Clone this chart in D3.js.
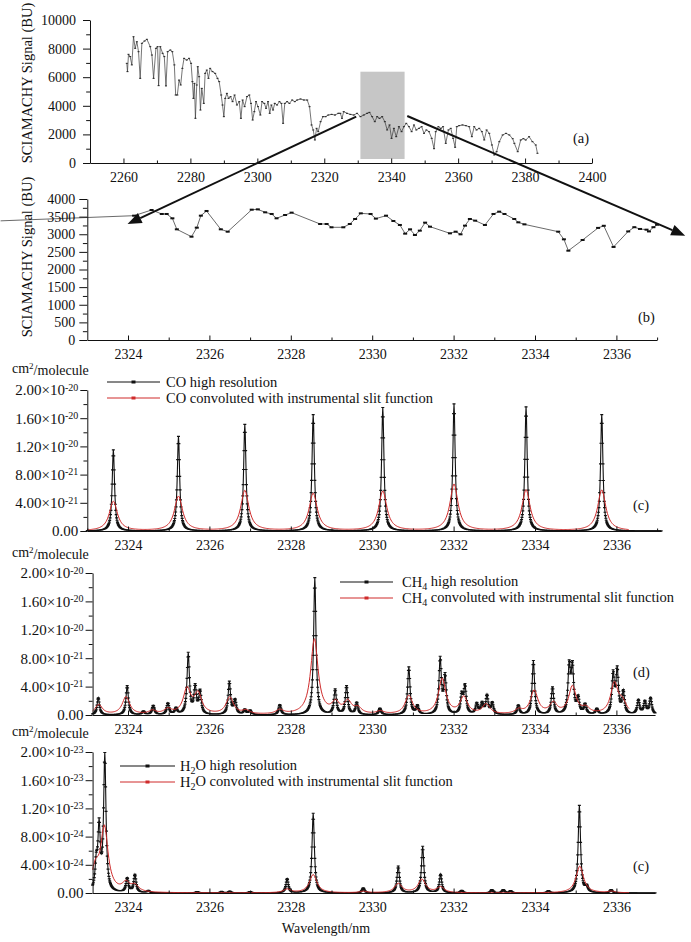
<!DOCTYPE html>
<html>
<head>
<meta charset="utf-8">
<script src="https://cdn.jsdelivr.net/npm/d3@7"></script>
<style>
  body { margin: 0; background: #fff; }
  svg { display: block; font-family: "Liberation Serif", "Times New Roman", serif; }
</style>
</head>
<body>
<svg id="chart" width="691" height="942"></svg>
<script>
// panel (a): SCIAMACHY signal over the whole window (nm, BU)
const aWave = [2261.0,2261.2,2261.5,2262.0,2262.5,2263.0,2263.5,2264.0,2264.5,2265.0,2265.5,2266.3,2267.0,2268.0,2268.5,2269.0,2269.7,2270.2,2270.5,2271.0,
  2271.7,2272.2,2272.7,2273.2,2274.0,2274.6,2275.2,2275.6,2276.1,2276.6,2277.1,2277.6,2278.1,2278.9,2279.6,2280.2,2280.6,2280.9,2281.2,2281.5,
  2281.9,2282.2,2282.6,2283.0,2283.4,2284.0,2284.4,2284.9,2285.4,2285.9,2286.6,2287.4,2288.1,2288.6,2289.2,2289.6,2290.0,2290.4,2290.9,2291.4,
  2292.0,2292.6,2293.2,2293.9,2294.6,2295.1,2295.6,2296.2,2296.9,2297.6,2298.1,2298.6,2299.1,2299.6,2300.2,2300.9,2301.4,2302.1,2302.6,2303.2,
  2303.7,2304.2,2304.7,2305.2,2305.9,2306.6,2307.2,2307.7,2308.2,2308.9,2309.6,2310.4,2311.2,2311.9,2312.9,2313.9,2314.9,2315.6,2316.2,2316.7,
  2317.2,2317.7,2318.2,2318.9,2319.6,2320.4,2321.2,2322.2,2323.2,2324.2,2324.8,2325.3,2325.8,2326.8,2327.8,2328.8,2329.8,2330.8,2331.8,2332.8,
  2333.5,2334.3,2335.1,2335.8,2336.5,2337.3,2338.1,2338.8,2339.5,2340.1,2340.8,2341.5,2342.3,2343.1,2343.8,2344.5,2345.3,2346.1,2346.8,2347.5,
  2348.3,2349.1,2349.8,2350.5,2351.3,2352.1,2352.8,2353.3,2354.1,2354.8,2355.5,2356.3,2357.1,2357.8,2358.5,2359.1,2359.6,2360.3,2361.3,2362.3,
  2363.3,2364.1,2364.8,2365.5,2366.3,2367.1,2367.8,2368.5,2369.3,2370.1,2370.8,2371.5,2372.3,2373.3,2374.3,2375.3,2376.3,2376.8,2377.8,2378.7,
  2379.5,2380.2,2381.2,2382.2,2383.2,2383.7];
const aSignal = [6970,6390,7600,7440,6860,8830,8020,8480,7785,5920,8370,8530,8650,8135,7550,5920,8020,8135,5410,8135,
  7670,7440,5390,7785,7900,7785,6860,4755,4755,5800,5455,6620,7320,7200,7320,6970,5690,4520,5570,3125,
  5455,6735,6035,3705,5220,4170,6270,6500,5920,6620,6390,6270,5920,5690,4755,4055,3240,4520,4870,4520,
  4640,4290,4755,4055,4290,3125,4405,3940,4640,4755,4170,3005,3590,4290,3940,3355,4290,4170,3825,4290,
  3475,4055,3705,4170,4055,4290,4170,2775,4170,4290,4170,4405,4290,4405,4475,4405,4405,3940,2660,2310,
  1610,2425,2190,2890,3240,3240,3355,3400,3355,3475,3475,3125,3590,3475,3400,3355,3475,3240,3355,3475,
  3540,3240,2890,3240,3125,3240,2890,2310,2660,1725,2425,1840,2540,2190,2540,2775,2540,2190,2660,2310,
  2425,2540,2075,2310,2190,1725,1000,2190,2540,2425,2540,1375,2310,2425,1725,1100,2540,2610,2660,2610,
  2540,1840,2540,2310,2425,2190,1610,2310,2075,1260,560,790,1490,1960,2075,1960,1700,1375,790,1610,
  1700,1610,1840,1490,1260,680];

// panel (b): zoom on 2323-2337 nm
const bWave = [2320.87,2324.15,2324.58,2324.83,2324.95,2325.09,2325.20,2325.56,2325.69,2325.79,2325.93,2326.28,2326.45,2327.04,2327.19,2327.37,2327.53,2327.65,2327.86,2328.02,
  2328.72,2328.88,2329.00,2329.29,2329.45,2329.58,2329.72,2329.96,2330.09,2330.34,2330.52,2330.68,2330.81,2330.93,2331.05,2331.17,2331.30,2331.42,2331.91,2332.05,
  2332.17,2332.28,2332.40,2332.53,2332.77,2332.98,2333.12,2333.25,2333.49,2333.59,2333.74,2334.57,2334.71,2334.82,2335.17,2335.55,2335.69,2335.93,2336.29,2336.44,
  2336.58,2336.74,2336.80,2336.91,2337.00];
const bSignal = [3380,3527,3688,3575,3575,3452,3140,2931,3187,3527,3660,3140,3073,3697,3706,3622,3575,3452,3546,3613,
  3291,3291,3197,3197,3291,3433,3593,3575,3443,3527,3376,3263,3017,3140,2979,3102,3329,3215,3026,3073,
  2998,3244,3433,3386,3263,3575,3641,3575,3433,3338,3281,3073,2856,2534,2837,3180,3240,2640,3080,3200,
  3150,3130,3080,3200,3270];

// panels (c)-(e): line positions (nm) and peak cross sections
// CO and CH4 in 1e-21 cm2/molecule, H2O in 1e-24 cm2/molecule
const coLinePos = [2323.64,2325.24,2326.87,2328.55,2330.26,2332.01,2333.78,2335.64];
const coPeakHigh = [11.5,13.4,15.1,16.5,17.5,18.0,17.6,16.5];
const coPeakConv = [4.2,4.9,5.7,5.3,5.6,6.6,5.8,5.8];

const ch4LinePos = [2323.27,2323.98,2324.38,2324.62,2324.98,2325.18,2325.48,2325.65,2325.77,2326.49,2326.63,2326.87,2327.00,2327.73,2328.59,
  2329.09,2329.37,2329.62,2330.19,2330.90,2331.11,2331.67,2331.79,2332.20,2332.28,2332.57,2332.70,2332.82,2332.95,2333.59,
  2333.96,2334.43,2334.84,2334.92,2335.06,2335.23,2335.52,2335.92,2336.02,2336.17,2336.54,2336.70,2336.84];
const ch4PeakHigh = [2.4,4.1,0.5,1.3,1.6,0.9,8.6,3.8,3.2,4.6,2.0,0.7,0.6,1.4,19.3,
  3.5,4.0,1.7,0.9,6.7,1.2,7.8,5.3,2.6,3.9,1.5,1.5,2.6,1.6,1.3,
  7.6,3.8,6.6,6.4,2.2,1.4,0.8,5.6,6.1,3.1,2.0,1.8,2.3];
const ch4ConvPos = [2323.28,2323.95,2324.60,2324.98,2325.45,2325.72,2326.50,2326.90,2327.73,2328.58,2329.10,2329.40,2329.65,2330.20,2330.90,
  2331.72,2332.25,2332.80,2333.60,2333.98,2334.45,2334.92,2335.25,2335.95,2336.15];
const ch4PeakConv = [1.4,2.5,0.5,0.7,3.5,2.8,2.4,0.5,0.6,10.6,1.5,1.7,0.8,0.4,2.6,
  5.0,2.4,1.4,0.6,3.3,1.5,3.9,0.8,4.3,1.5];

const h2oLinePos = [2323.22,2323.29,2323.43,2323.98,2324.17,2324.50,2325.70,2326.30,2326.50,2327.00,2327.91,2328.55,2329.78,2330.64,2331.24,
  2331.68,2332.20,2332.94,2333.22,2333.40,2334.33,2335.09,2335.27,2335.87];
const h2oPeakHigh = [3.5,8.8,19.3,2.0,2.5,0.3,0.2,0.2,0.25,0.2,2.0,11.3,0.7,3.8,6.6,
  2.6,0.35,0.45,0.45,0.3,0.3,12.4,0.8,0.45];
const h2oConvPos = [2323.20,2323.42,2323.95,2324.17,2327.91,2328.55,2329.78,2330.64,2331.22,2331.68,2335.10,2335.88];
const h2oPeakConv = [3.0,9.0,1.2,0.9,0.5,2.6,0.2,1.3,1.9,0.8,3.8,0.2];

// y tick labels of the cross section panels
const specTicks = [0, 4, 8, 12, 16, 20];
const specMant = ['0.00', '4.00', '8.00', '1.20', '1.60', '2.00'];
const cdExp = ['', '-21', '-21', '-20', '-20', '-20'];
const eExp = ['', '-24', '-24', '-23', '-23', '-23'];

const RED = '#cf2b2b';
const svg = d3.select('#chart');

// sum of line profiles sampled on a grid (line centres are added to the grid)
function spectrum(pos, amp, gamma, lo, hi, step) {
  const grid = d3.range(lo, hi + step / 2, step).concat(pos.filter(p => p > lo && p < hi));
  grid.sort(d3.ascending);
  return grid.map(x => {
    let s = 0;
    for (let i = 0; i < pos.length; i++) {
      const d = (x - pos[i]) / gamma;
      s += amp[i] / (1 + d * d);
    }
    return [x, s];
  });
}

function styleAxis(g, size) {
  g.attr('font-family', null).attr('font-size', size);
  g.selectAll('text').attr('fill', '#111');
  g.selectAll('line,path').attr('stroke', '#111');
}

function xAxis(g, x, yPix, major, minor, fmt) {
  g.append('g').attr('transform', `translate(0,${yPix})`)
    .call(d3.axisBottom(x).tickValues(major).tickSizeInner(-4.5).tickSizeOuter(0).tickPadding(9).tickFormat(fmt))
    .call(a => styleAxis(a, 14));
  g.append('g').attr('transform', `translate(0,${yPix})`)
    .call(d3.axisBottom(x).tickValues(minor).tickSizeInner(-2.5).tickSizeOuter(0).tickFormat(''))
    .call(a => { styleAxis(a, 14); a.select('.domain').remove(); });
}

function yAxis(g, y, xPix, major, minor, inner, pad, fmt, size) {
  const ax = g.append('g').attr('transform', `translate(${xPix},0)`)
    .call(d3.axisLeft(y).tickValues(major).tickSizeInner(inner).tickSizeOuter(0).tickPadding(pad).tickFormat(fmt))
    .call(a => styleAxis(a, size || 14));
  g.append('g').attr('transform', `translate(${xPix},0)`)
    .call(d3.axisLeft(y).tickValues(minor).tickSizeInner(inner * 0.55).tickSizeOuter(0).tickFormat(''))
    .call(a => { styleAxis(a, 14); a.select('.domain').remove(); });
  return ax;
}

function sciLabels(ax, exps) {
  ax.selectAll('.tick text').each(function (d, i) {
    const t = d3.select(this).text(null);
    t.append('tspan').text(specMant[i]);
    if (exps[i]) {
      t.append('tspan').text('\u00d710');
      t.append('tspan').attr('dy', '-0.45em').attr('font-size', 10).text(exps[i]);
    }
  });
}

function text(x, y, size, parts, anchor) {
  const t = svg.append('text').attr('x', x).attr('y', y).attr('font-size', size)
    .attr('fill', '#111').attr('text-anchor', anchor || 'start');
  parts.forEach(p => {
    if (typeof p === 'string') t.append('tspan').text(p);
    else t.append('tspan').attr('dy', p.dy).attr('font-size', p.size).text(p.t);
  });
  return t;
}

function ladder(g, pts, x, y, color, w) {
  const line = d3.line().x(d => x(d[0])).y(d => y(d[1]));
  g.append('path').attr('d', line(pts)).attr('fill', 'none').attr('stroke', color).attr('stroke-width', w);
  const p = d3.path();
  pts.forEach(d => { p.moveTo(x(d[0]) - 1.5, y(d[1])); p.lineTo(x(d[0]) + 1.5, y(d[1])); });
  g.append('path').attr('d', p.toString()).attr('stroke', color).attr('stroke-width', 1.2);
}

function legendRow(x0, x1, yPix, color, tx, parts) {
  svg.append('line').attr('x1', x0).attr('x2', x1).attr('y1', yPix).attr('y2', yPix)
    .attr('stroke', color).attr('stroke-width', 1);
  svg.append('rect').attr('x', (x0 + x1) / 2 - 2).attr('y', yPix - 1.5).attr('width', 4).attr('height', 3).attr('fill', color);
  text(tx, yPix + 5, 14.5, parts);
}

// ---------------- panel (a)
const ax = d3.scaleLinear().domain([2250, 2400]).range([90, 592]);
const ay = d3.scaleLinear().domain([0, 10000]).range([163, 20]);
const ga = svg.append('g');
const box = [2330.8, 2344.0, 280, 6385];
ga.append('rect').attr('x', ax(box[0])).attr('y', ay(box[3]))
  .attr('width', ax(box[1]) - ax(box[0])).attr('height', ay(box[2]) - ay(box[3])).attr('fill', '#c6c6c6');
const aPts = aWave.map((w, i) => [w, aSignal[i]]);
ga.append('path').attr('d', d3.line().x(d => ax(d[0])).y(d => ay(d[1]))(aPts))
  .attr('fill', 'none').attr('stroke', '#3a3a3a').attr('stroke-width', 0.7);
ga.selectAll('rect.m').data(aPts).join('rect').attr('class', 'm')
  .attr('x', d => ax(d[0]) - 1).attr('y', d => ay(d[1]) - 0.5).attr('width', 2).attr('height', 1).attr('fill', '#222');
xAxis(ga, ax, 163, d3.range(2260, 2401, 20), d3.range(2250, 2401, 20), d3.format('d'));
yAxis(ga, ay, 90, d3.range(0, 10001, 2000), d3.range(1000, 10000, 2000), 7, 7, d3.format('d'));
text(27, 83, 14.5, ['SCIAMACHY Signal (BU)'], 'middle').attr('transform', 'rotate(-90,27,83)').attr('dy', '0.35em');
text(573, 143, 14.5, ['(a)']);

// ---------------- panel (b)
const bx = d3.scaleLinear().domain([2323, 2337]).range([87.3, 657.1]);
const by = d3.scaleLinear().domain([0, 4000]).range([340, 199]);
const gb = svg.append('g');
const bPts = bWave.map((w, i) => [w, bSignal[i]]);
gb.append('path').attr('d', d3.line().x(d => bx(d[0])).y(d => by(d[1]))(bPts))
  .attr('fill', 'none').attr('stroke', '#444').attr('stroke-width', 0.8);
gb.selectAll('rect').data(bPts.filter(d => d[0] >= 2323)).join('rect')
  .attr('x', d => bx(d[0]) - 2).attr('y', d => by(d[1]) - 1).attr('width', 4).attr('height', 2).attr('fill', '#111');
xAxis(gb, bx, 340, d3.range(2324, 2337, 2), d3.range(2325, 2338, 2), d3.format('d'));
yAxis(gb, by, 87.3, d3.range(0, 4001, 500), d3.range(250, 4000, 500), 8, 4, d3.format('d'));
text(27, 257, 14.5, ['SCIAMACHY Signal (BU)'], 'middle').attr('transform', 'rotate(-90,27,257)').attr('dy', '0.35em');
text(638, 322, 14.5, ['(b)']);

// ---------------- panels (c)-(e)
const nm = d3.scaleLinear().domain([2324, 2336]).range([128, 616.4]);
const panels = [
  { lo: 2323.0, hi: 2337.1, top: 390, bot: 531, pos: coLinePos, amp: coPeakHigh, cpos: coLinePos, camp: coPeakConv, cg: 0.12,
    exp: cdExp, unitY: 373, tag: '(c)', tagY: 510,
    leg: [107, 160, 382, 166], names: [['CO high resolution'], ['CO convoluted with instrumental slit function']] },
  { lo: 2323.13, hi: 2336.95, top: 573, bot: 715, pos: ch4LinePos, amp: ch4PeakHigh, cpos: ch4ConvPos, camp: ch4PeakConv, cg: 0.11,
    exp: cdExp, unitY: 557, tag: '(d)', tagY: 677,
    leg: [340, 393, 582, 402], names: [['CH', { t: '4', dy: '0.3em', size: 10 }, { t: ' high resolution', dy: '-0.3em', size: 14.5 }],
      ['CH', { t: '4', dy: '0.3em', size: 10 }, { t: ' convoluted with instrumental slit function', dy: '-0.3em', size: 14.5 }]] },
  { lo: 2323.13, hi: 2336.95, top: 752, bot: 893, pos: h2oLinePos, amp: h2oPeakHigh, cpos: h2oConvPos, camp: h2oPeakConv, cg: 0.11,
    exp: eExp, unitY: 736, tag: '(c)', tagY: 871,
    leg: [120, 175, 766, 180], names: [['H', { t: '2', dy: '0.3em', size: 10 }, { t: 'O high resolution', dy: '-0.3em', size: 14.5 }],
      ['H', { t: '2', dy: '0.3em', size: 10 }, { t: 'O convoluted with instrumental slit function', dy: '-0.3em', size: 14.5 }]] }
];

panels.forEach(p => {
  const x = d3.scaleLinear().domain([p.lo, p.hi]).range([nm(p.lo), nm(p.hi)]);
  const y = d3.scaleLinear().domain([0, 20]).range([p.bot, p.top]);
  const g = svg.append('g');
  const high = spectrum(p.pos, p.amp, 0.035, p.lo, p.hi, 0.01);
  const conv = spectrum(p.cpos, p.camp, p.cg, p.lo, Math.min(p.hi, 2336.3), 0.02);
  ladder(g, high, x, y, '#111', 1.1);
  g.append('path').attr('d', d3.line().x(d => x(d[0])).y(d => y(d[1]))(conv))
    .attr('fill', 'none').attr('stroke', RED).attr('stroke-width', 1);
  const xMinor = d3.range(2323, 2338, 2).filter(v => v >= p.lo && v <= p.hi);
  xAxis(g, x, p.bot, d3.range(2324, 2337, 2), xMinor, d3.format('d'));
  const yax = yAxis(g, y, x.range()[0], specTicks, [2, 6, 10, 14, 18], 7, 2, null, 15);
  sciLabels(yax, p.exp);
  text(12, p.unitY, 14, ['cm', { t: '2', dy: '-0.45em', size: 9 }, { t: '/molecule', dy: '0.45em', size: 14 }]);
  text(633, p.tagY, 14.5, [p.tag]);
  legendRow(p.leg[0], p.leg[1], p.leg[2], '#111', p.leg[3], p.names[0]);
  legendRow(p.leg[0], p.leg[1], p.leg[2] + 16, RED, p.leg[3], p.names[1]);
});
text(326, 933, 14, ['Wavelength/nm'], 'middle');

// ---------------- arrows from the grey box in (a) to panel (b)
const arrowFrom = [[2329.55, 3238], [2344.8, 3287]];
const arrowTo = [[2323.99, 3291], [2337.69, 2959]];
arrowFrom.forEach((f, i) => {
  const x1 = ax(f[0]), y1 = ay(f[1]), x2 = bx(arrowTo[i][0]), y2 = by(arrowTo[i][1]);
  const a = Math.atan2(y2 - y1, x2 - x1), L = 14, w = 5.5;
  const bxp = x2 - L * Math.cos(a), byp = y2 - L * Math.sin(a);
  svg.append('line').attr('x1', x1).attr('y1', y1).attr('x2', bxp).attr('y2', byp)
    .attr('stroke', '#111').attr('stroke-width', 2);
  svg.append('polygon').attr('fill', '#111').attr('points', [
    [x2, y2],
    [bxp + w * Math.sin(a), byp - w * Math.cos(a)],
    [bxp - w * Math.sin(a), byp + w * Math.cos(a)]].map(q => q.join(',')).join(' '));
});
</script>
</body>
</html>
